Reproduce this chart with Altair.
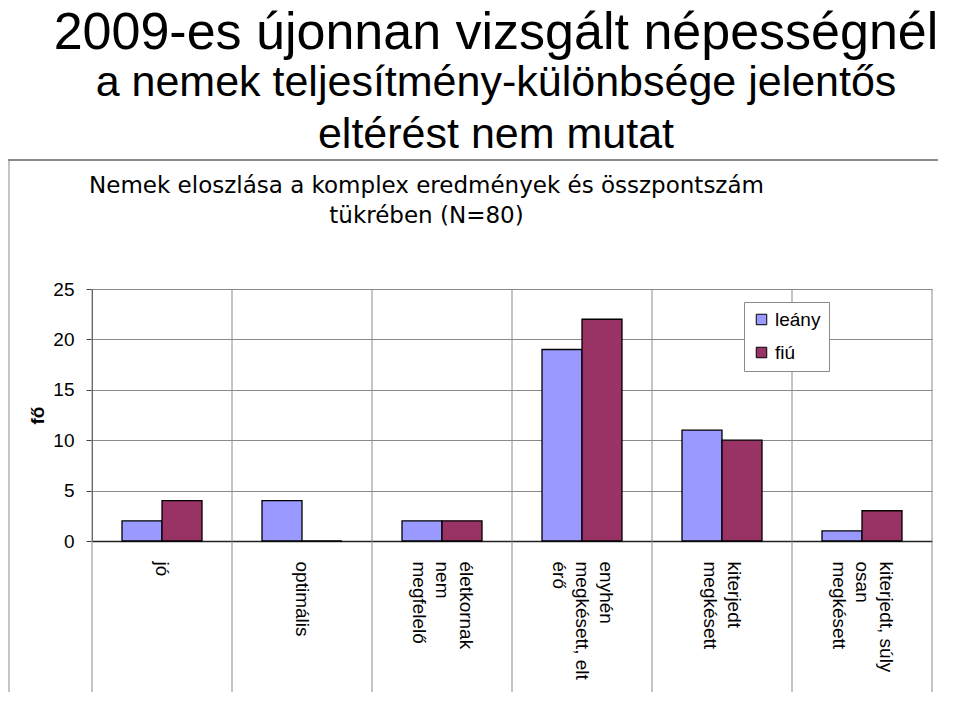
import altair as alt
import pandas as pd

# ---- data ----
categories = [
    "jó",
    "optimális",
    "életkornak\nnem\nmegfelelő",
    "enyhén\nmegkésett, elt\nérő",
    "kiterjedt\nmegkésett",
    "kiterjedt, súly\nosan\nmegkésett",
]
leany = [2, 4, 2, 19, 11, 1]
fiu = [4, 0, 2, 22, 10, 3]
series = ["leány", "fiú"]
colors = ["#9999FF", "#993366"]
y_ticks = [0, 5, 10, 15, 20, 25]

heading = "2009-es újonnan vizsgált népességnél"
heading_rest = ["a nemek teljesítmény-különbsége jelentős", "eltérést nem mutat"]
chart_title = ["Nemek eloszlása a komplex eredmények  és összpontszám", "tükrében (N=80)"]
y_title = "fő"

rows = []
for c, a, b in zip(categories, leany, fiu):
    rows.append({"kategoria": c, "nem": series[0], "fo": a})
    rows.append({"kategoria": c, "nem": series[1], "fo": b})
df = pd.DataFrame(rows)
cat_df = pd.DataFrame({"kategoria": categories})
frame_df = pd.DataFrame({"k": [0]})

FONT = "Liberation Sans"
GRID = "#8a8a8a"
LINE_H = 23.5

x_scale = alt.Scale(domain=categories, paddingInner=0, paddingOuter=0)

n_lines = "length(split(datum.value, '\\n'))"
label_offset = {
    "condition": [
        {"test": n_lines + " == 3", "value": LINE_H},
        {"test": n_lines + " == 2", "value": LINE_H / 2},
    ],
    "value": 0,
}

bars = alt.Chart(df).mark_bar(stroke="black", strokeWidth=1.3).encode(
    x=alt.X(
        "kategoria:N",
        scale=x_scale,
        axis=alt.Axis(
            orient="bottom", title=None, ticks=False, grid=False,
            domainColor="#222222", domainWidth=1.5,
            labelExpr="split(datum.label, '\\n')",
            labelAngle=90, labelAlign="left", labelBaseline="middle",
            labelFont=FONT, labelFontSize=19, labelLineHeight=LINE_H,
            labelPadding=20, labelLimit=0, labelOverlap=False, labelColor="black",
            labelOffset=label_offset,
        ),
    ),
    xOffset=alt.XOffset(
        "nem:N", sort=series,
        scale=alt.Scale(domain=series, paddingInner=0, paddingOuter=0.75),
    ),
    y=alt.Y(
        "fo:Q",
        scale=alt.Scale(domain=[0, 25], nice=False),
        axis=alt.Axis(
            values=y_ticks, title=y_title, titleFont=FONT, titleFontSize=19,
            titleFontWeight="bold", titleColor="black", titlePadding=5,
            labelFont=FONT, labelFontSize=19, labelColor="black", labelPadding=12,
            tickSize=6, tickColor="#444444", domainColor="#444444",
            grid=True, gridColor=GRID, gridWidth=1,
        ),
    ),
    color=alt.Color(
        "nem:N",
        sort=series,
        scale=alt.Scale(domain=series, range=colors),
        legend=alt.Legend(
            title=None, orient="none", legendX=652, legendY=13, direction="vertical",
            fillColor="white", strokeColor=GRID, padding=8,
            symbolType="square", symbolSize=110, symbolStrokeColor="black",
            symbolStrokeWidth=1, symbolOpacity=1,
            labelFont=FONT, labelFontSize=19, labelColor="black",
            rowPadding=13, labelOffset=4,
        ),
    ),
)

grid_rules = alt.Chart(cat_df).mark_rule(color=GRID, strokeWidth=1).encode(
    x=alt.X(
        "kategoria:N",
        bandPosition=0,
        scale=x_scale,
        axis=alt.Axis(
            orient="top", labels=False, ticks=False, domain=False, grid=False,
            title=chart_title, titleFont="DejaVu Sans", titleFontSize=23,
            titleFontWeight="normal", titleColor="black",
            titleX=334, titleY=-97, titleAlign="center", titleBaseline="alphabetic",
            titleLineHeight=30, titleAngle=0,
        ),
    ),
    y=alt.value(0),
    y2=alt.value(408),
)

edge_rule = alt.Chart(cat_df).transform_filter(
    alt.FieldOneOfPredicate(field="kategoria", oneOf=[categories[-1]])
).mark_rule(color=GRID, strokeWidth=1).encode(
    x=alt.X("kategoria:N", bandPosition=1, scale=x_scale, axis=None),
    y=alt.value(0),
    y2=alt.value(408),
)

frame_top = alt.Chart(frame_df).mark_rule(color=GRID, strokeWidth=2).encode(
    x=alt.value(-84), x2=alt.value(846), y=alt.value(-129)
)
frame_left = alt.Chart(frame_df).mark_rule(color=GRID, strokeWidth=1).encode(
    x=alt.value(-83), y=alt.value(-129), y2=alt.value(420)
)

chart = (
    alt.layer(frame_top, frame_left, grid_rules, edge_rule, bars)
    .resolve_axis(x="independent")
    .properties(
        width=840,
        height=252,
        padding={"left": 84, "top": 281, "right": 20, "bottom": 151},
        autosize=alt.AutoSizeParams(type="none"),
        title=alt.TitleParams(
            text=heading, subtitle=heading_rest,
            font=FONT, subtitleFont=FONT, fontSize=52, subtitleFontSize=43,
            fontWeight="normal", color="black", subtitleColor="black",
            anchor="middle", frame="group", dx=-16, offset=1,
            subtitlePadding=2, subtitleLineHeight=52,
        ),
    )
    .configure_view(stroke=None)
)

chart.save("out.html", embed_options={"renderer": "svg", "actions": False})
